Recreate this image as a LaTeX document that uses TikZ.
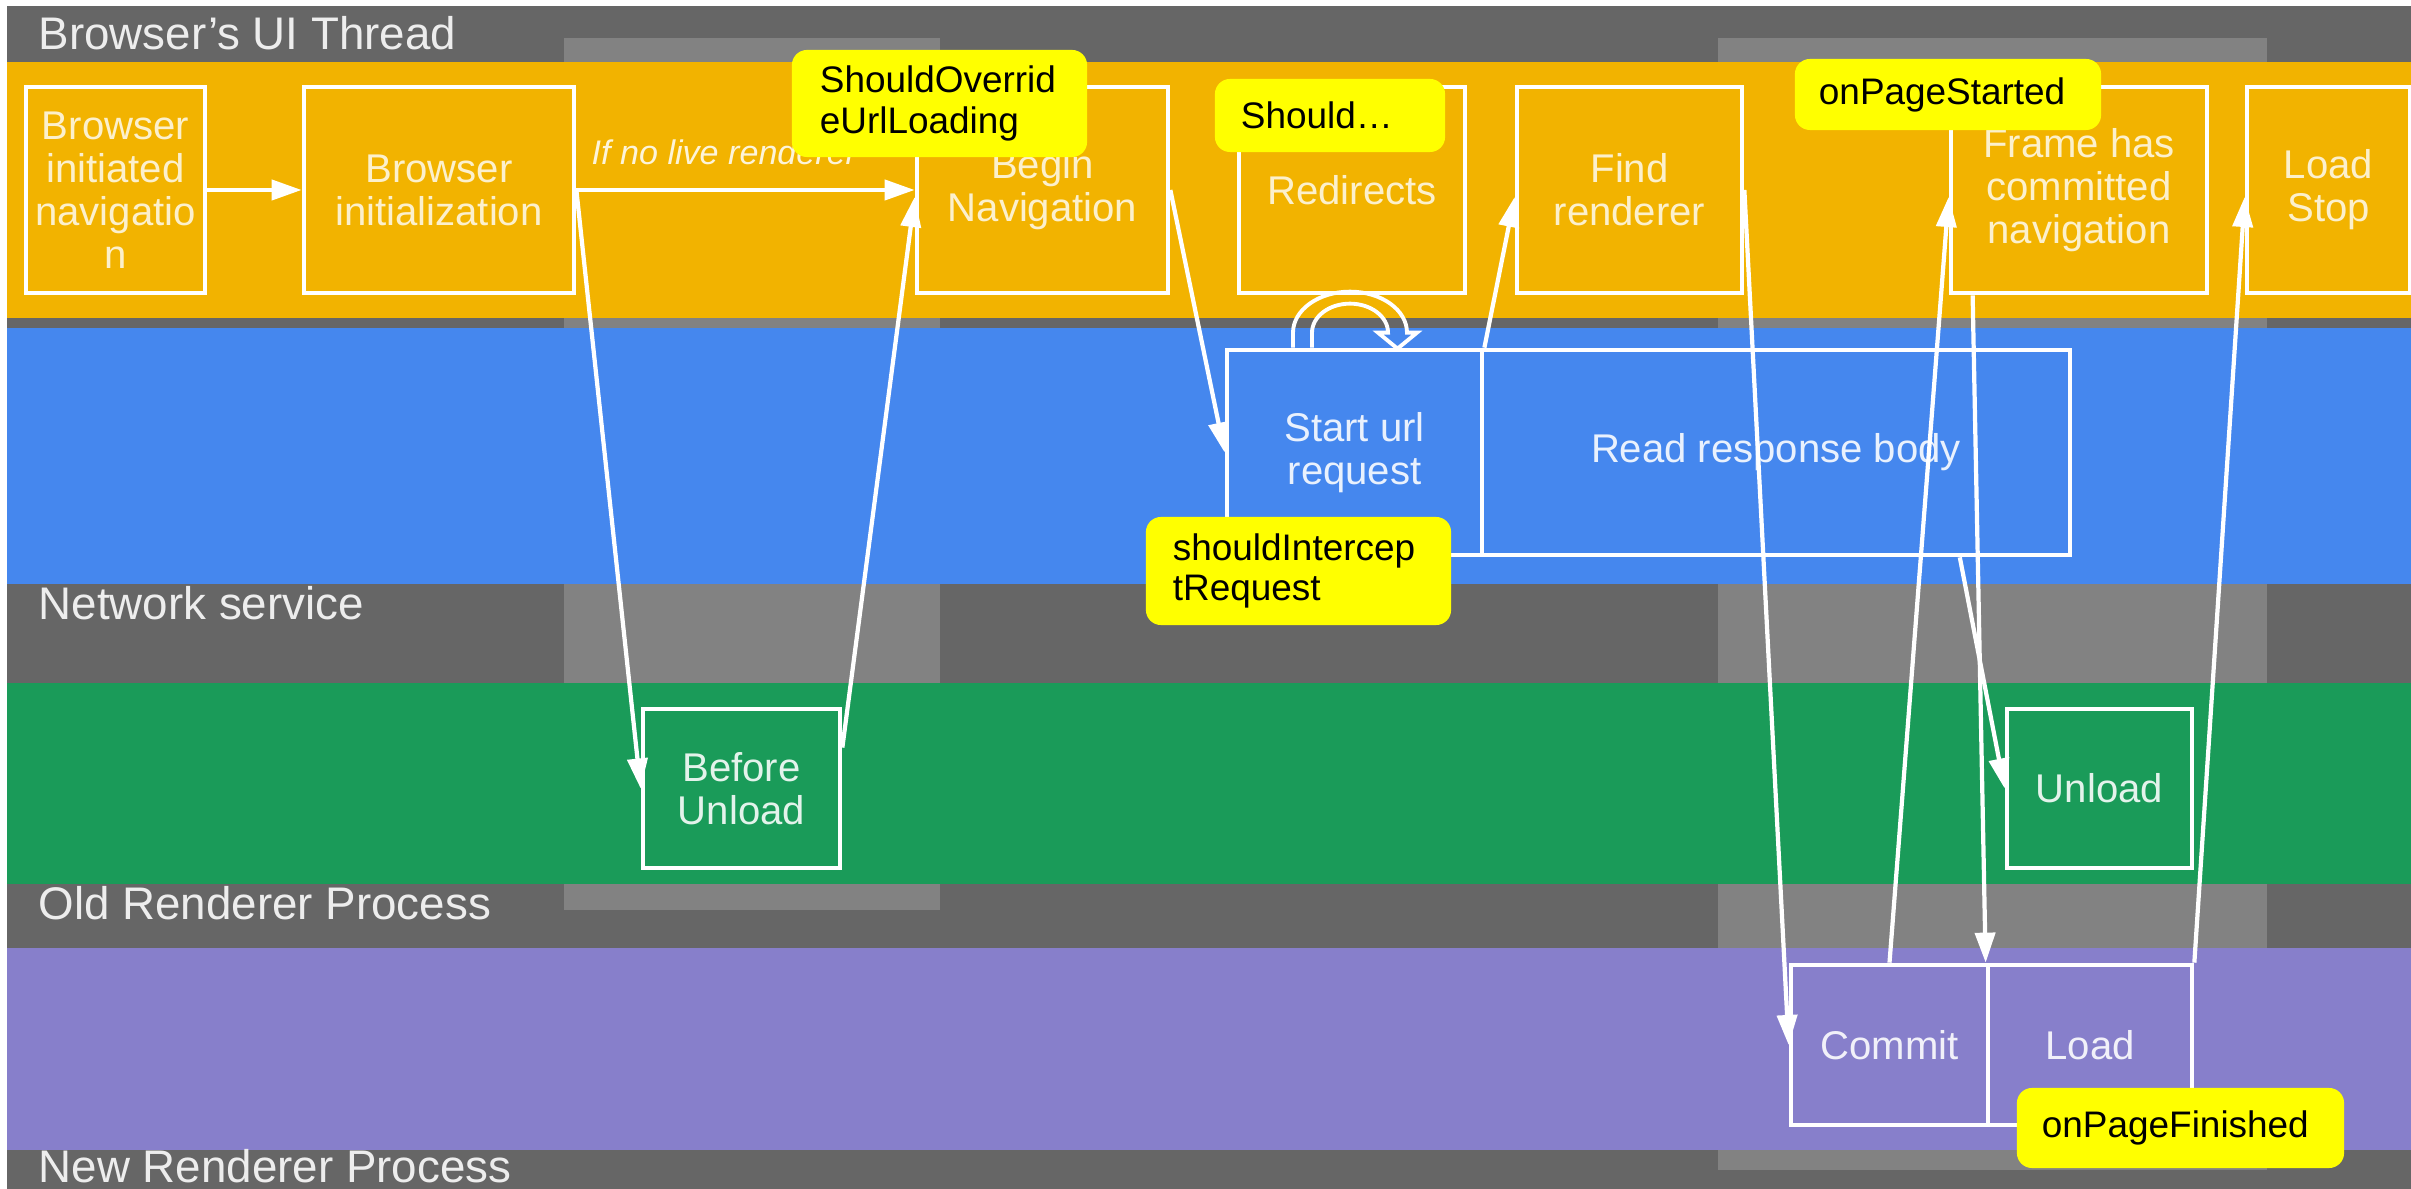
\documentclass[tikz,border=0pt]{standalone}
\usepackage{fontspec}
\setmainfont{Liberation Sans}
\usetikzlibrary{arrows.meta,calc}

\definecolor{bgdark}{HTML}{666666}
\definecolor{bglight}{HTML}{828282}
\definecolor{uiorange}{HTML}{F2B300}
\definecolor{netblue}{HTML}{4587EE}
\definecolor{oldgreen}{HTML}{1A9B59}
\definecolor{newpurple}{HTML}{877FCB}
\definecolor{notefill}{HTML}{FFFF00}

\begin{document}
\begin{tikzpicture}[x=0.01cm,y=-0.01cm,
  lane/.style={anchor=base west, inner sep=0pt, text=white!93!black,
    font=\fontsize{13}{15}\selectfont},
  box/.style={draw=white, line width=1.3pt, inner sep=0pt, align=center,
    font=\fontsize{11.4}{12.2}\selectfont},
  obox/.style={box, text=white!80!uiorange, minimum height=2.06cm},
  bbox/.style={box, text=white!88!netblue, minimum height=2.05cm},
  gbox/.style={box, text=white!88!oldgreen, minimum height=1.59cm},
  pbox/.style={box, text=white!88!newpurple, minimum height=1.60cm},
  arr/.style={draw=white, line width=1.2pt, -{Triangle[length=0.3cm,width=0.2cm]}},
  note/.style={fill=notefill, rounded corners=0.15cm, text=black, align=left,
    inner ysep=0pt, font=\fontsize{10.5}{11.6}\selectfont}
]
% canvas and lanes
\useasboundingbox (0,0) rectangle (2411,1189);
\fill[white] (0,0) rectangle (2411,1189);
\fill[bgdark] (7,6) rectangle (2411,1189);
\fill[bglight] (564,38) rectangle (940,910);
\fill[bglight] (1718,38) rectangle (2267,1170);
\fill[uiorange] (7,62) rectangle (2411,318);
\fill[netblue] (7,328) rectangle (2411,584);
\fill[oldgreen] (7,683) rectangle (2411,884);
\fill[newpurple] (7,948) rectangle (2411,1150);

% lane titles
\node[lane] (laneui) at (38,50) {Browser's UI Thread};
\node[lane] (lanenet) at (38,620) {Network service};
\node[lane] (laneold) at (38,920) {Old Renderer Process};
\node[lane] (lanenew) at (38,1183) {New Renderer Process};

% UI thread steps
\node[obox, minimum width=1.79cm] (A) at (115.5,190) {Browser\\initiated\\navigatio\\n};
\node[obox, minimum width=2.70cm] (B) at (439,190) {Browser\\initialization};
\node[obox, minimum width=2.51cm] (C) at (1042.5,190) {Begin\\Navigation};
\node[obox, minimum width=2.26cm] (D) at (1352,190) {Redirects};
\node[obox, minimum width=2.25cm] (E) at (1629.5,190) {Find\\renderer};
\node[obox, minimum width=2.56cm] (F) at (2079,190) {Frame has\\committed\\navigation};
\node[obox, minimum width=1.63cm] (G) at (2328.5,190) {Load\\Stop};

% network service steps
\node[bbox, minimum width=2.55cm] (H) at (1354.5,452.5) {Start url\\request};
\node[bbox, minimum width=5.88cm] (I) at (1776,452.5) {Read response body};

% old renderer steps
\node[gbox, minimum width=1.97cm] (BU) at (741.5,788.5) {Before\\Unload};
\node[gbox, minimum width=1.85cm] (UL) at (2099.5,788.5) {Unload};

% new renderer steps
\node[pbox, minimum width=1.97cm] (CM) at (1889.5,1045) {Commit};
\node[pbox, minimum width=2.04cm] (LD) at (2090,1045) {Load};

% flow
\draw[arr] (A) -- (B);
\draw[arr] (B) -- (C);
\draw[arr] (B.east) -- (BU.west);
\draw[arr] ($(BU.north east)!0.25!(BU.south east)$) -- ($(C.west)+(0,7)$);
\draw[arr] (C.east) -- (H.west);
\draw[arr] (H.north east) -- ($(E.west)+(0,7)$);
\draw[arr] (E.east) -- (CM.west);
\draw[arr] (CM.north) -- ($(F.west)+(0,7)$);
\draw[arr] ($(F.south west)+(24,0)$) -- (LD.north west);
\draw[arr] ($(I.south west)!0.81!(I.south east)$) -- (UL.west);
\draw[arr] (LD.north east) -- ($(G.west)+(0,7)$);

% redirect loop: hollow bent arrow on top of the url request
\begin{scope}[shift={(H.north)}]
  \draw[white, line width=1.1pt, line join=miter]
    (-61.5,0) -- (-61.5,-15)
    .. controls (-61.5,-37.6) and (-36,-56) .. (-4.5,-56)
    .. controls (27,-56) and (52.5,-37.6) .. (52.5,-15)
    -- (62.5,-15) -- (43,1) -- (23.5,-15) -- (33.5,-15)
    .. controls (33.5,-31) and (16.5,-44) .. (-4.5,-44)
    .. controls (-25.5,-44) and (-42.5,-31) .. (-42.5,-15)
    -- (-42.5,0);
\end{scope}

\node[anchor=base west, inner sep=0pt, text=white!85!uiorange,
  font=\fontsize{9.7}{11}\selectfont\itshape] (lbl) at (591,165) {If no live renderer};

% WebView callbacks
\node[note, minimum width=2.95cm, text width=2.39cm, inner xsep=0.28cm, minimum height=1.07cm]
  (k1) at (939.5,103.5) {\mbox{ShouldOverrid}\\\mbox{eUrlLoading}};
\node[note, minimum width=2.30cm, text width=1.78cm, inner xsep=0.26cm, minimum height=0.73cm]
  (k2) at (1330,115.5) {Should…};
\node[note, minimum width=3.06cm, text width=2.58cm, inner xsep=0.24cm, minimum height=0.71cm]
  (k3) at (1948,94.5) {\mbox{onPageStarted}};
\node[note, minimum width=3.05cm, text width=2.51cm, inner xsep=0.27cm, minimum height=1.08cm]
  (k4) at (1298.5,571) {\mbox{shouldIntercep}\\\mbox{tRequest}};
\node[note, minimum width=3.27cm, text width=2.77cm, inner xsep=0.25cm, minimum height=0.80cm]
  (k5) at (2180.5,1128) {\mbox{onPageFinished}};
\end{tikzpicture}
\end{document}
